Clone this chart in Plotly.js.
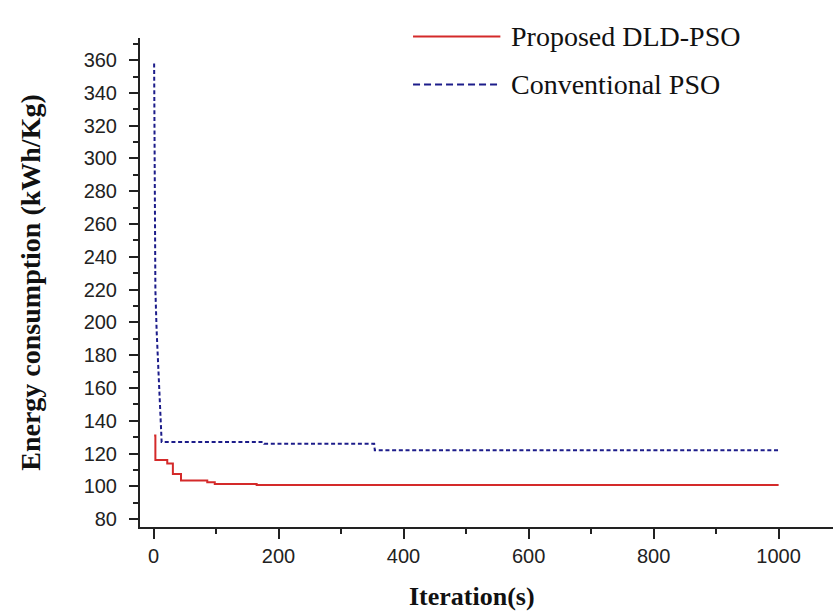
<!DOCTYPE html>
<html>
<head>
<meta charset="utf-8">
<script src="https://cdn.plot.ly/plotly-3.0.1.min.js"></script>
<style>
  html, body { margin: 0; padding: 0; background: #ffffff; }
  #chart { width: 833px; height: 614px; }
</style>
</head>
<body>
<div id="chart"></div>
<script>
// Best-so-far energy consumption per iteration for the two optimisers.
const dldIter = [1, 3, 22, 31, 44, 86, 98, 165, 1000];
const dldEnergy = [131, 116, 114, 107.5, 103.5, 102.5, 101.5, 100.8, 100.8];

const psoIter = [1, 2, 3, 5, 7, 9, 11, 12, 13, 176, 177, 353, 354, 1000];
const psoEnergy = [358, 285, 220, 195, 175, 158, 145, 136, 127, 127, 126, 126, 122, 122];

const seriesNames = ['Proposed DLD-PSO', 'Conventional PSO'];
const xTicks = [0, 200, 400, 600, 800, 1000];
const yTicks = [80, 100, 120, 140, 160, 180, 200, 220, 240, 260, 280, 300, 320, 340, 360];

const red = '#d42a2a';
const navy = '#1c1c8a';

const traces = [
  {
    x: dldIter, y: dldEnergy, name: seriesNames[0],
    type: 'scatter', mode: 'lines',
    line: { color: red, width: 2, shape: 'hv' },
    showlegend: false
  },
  {
    x: psoIter, y: psoEnergy, name: seriesNames[1],
    type: 'scatter', mode: 'lines',
    line: { color: navy, width: 2, dash: '4px,2.7px' },
    showlegend: false
  }
];

const tickFont = { family: 'Liberation Sans, Arial, sans-serif', size: 20, color: '#222' };
const titleFont = { family: 'Liberation Serif, Times New Roman, serif', color: '#111' };

// Legend drawn as sample lines plus labels in the upper right.
const legendFont = { family: 'Liberation Serif, Times New Roman, serif', size: 28, color: '#111' };
const legendRows = [
  { y: 1.003, color: red, dash: 'solid' },
  { y: 0.905, color: navy, dash: '7px,4px' }
];
const shapes = legendRows.map(r => ({
  type: 'line', xref: 'paper', yref: 'paper',
  x0: 0.394, x1: 0.52, y0: r.y, y1: r.y,
  line: { color: r.color, width: 2, dash: r.dash }
}));
const annotations = legendRows.map((r, i) => ({
  xref: 'paper', yref: 'paper', x: 0.532, y: r.y,
  xanchor: 'left', yanchor: 'middle', showarrow: false,
  text: seriesNames[i], font: legendFont
}));
// x-axis title, set slightly left of the axis centre
annotations.push({
  xref: 'paper', yref: 'paper', x: 0.479, y: -0.143,
  xanchor: 'center', yanchor: 'middle', showarrow: false,
  text: '<b>Iteration(s)</b>', font: { ...titleFont, size: 26 }
});

const layout = {
  width: 833, height: 614,
  margin: { l: 140, r: 0, t: 38, b: 87 },
  paper_bgcolor: '#ffffff', plot_bgcolor: '#ffffff',
  showlegend: false,
  xaxis: {
    range: [-21.6, 1087],
    tickvals: xTicks, ticktext: xTicks.map(String),
    ticks: 'outside', ticklen: 10, tickwidth: 2, tickcolor: '#222',
    minor: { dtick: 100, ticks: 'outside', ticklen: 5, tickwidth: 2, tickcolor: '#222' },
    showline: true, linecolor: '#222', linewidth: 2,
    showgrid: false, zeroline: false,
    tickfont: tickFont, ticklabelstandoff: 0
  },
  yaxis: {
    range: [75.2, 373.5],
    tickvals: yTicks, ticktext: yTicks.map(String),
    ticks: 'outside', ticklen: 9, tickwidth: 2, tickcolor: '#222',
    minor: { dtick: 10, tick0: 0, ticks: 'outside', ticklen: 5, tickwidth: 2, tickcolor: '#222' },
    showline: true, linecolor: '#222', linewidth: 2,
    showgrid: false, zeroline: false,
    tickfont: tickFont, ticklabelstandoff: 8,
    title: { text: '<b>Energy consumption (kWh/Kg)</b>', font: { ...titleFont, size: 28 }, standoff: 35 }
  },
  shapes: shapes,
  annotations: annotations
};

Plotly.newPlot('chart', traces, layout, { displayModeBar: false, staticPlot: true });
</script>
</body>
</html>
